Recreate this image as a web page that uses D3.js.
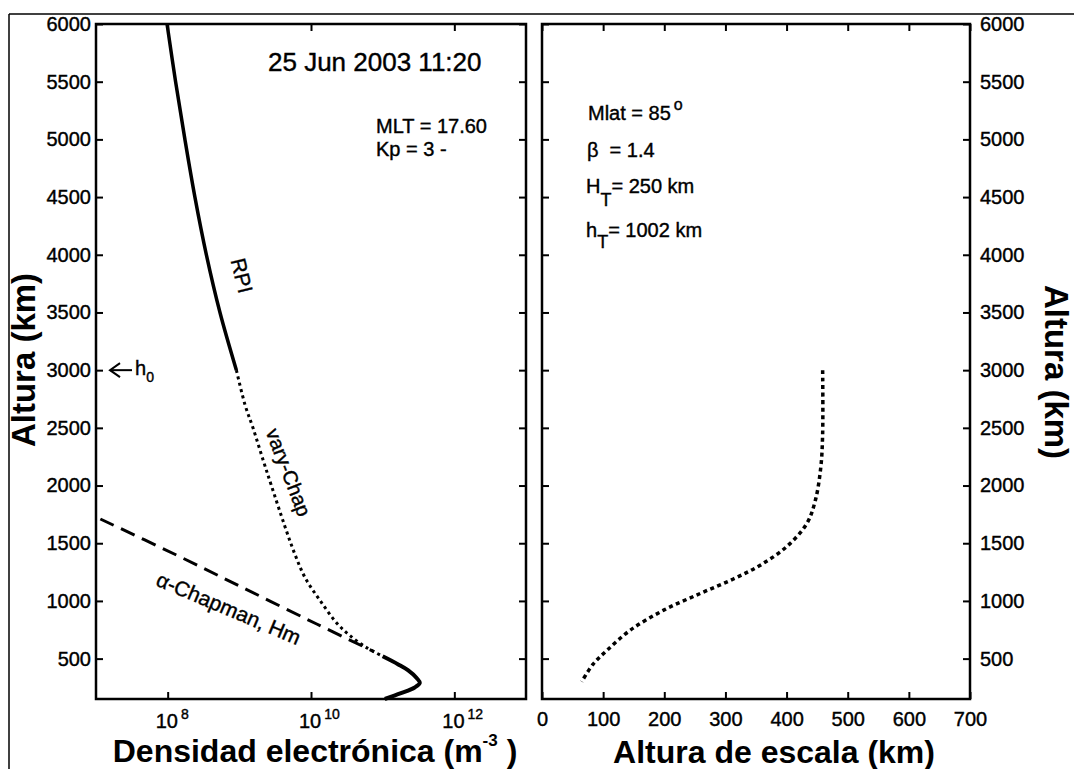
<!DOCTYPE html>
<html>
<head>
<meta charset="utf-8">
<script src="https://cdn.jsdelivr.net/npm/d3@7"></script>
<style>
body { margin: 0; background: #fff; }
text { font-family: "Liberation Sans", Arial, sans-serif; fill: #000; }
.thick { stroke: #000; stroke-width: 0.4px; }
</style>
</head>
<body>
<div id="chart"></div>
<script>
// left panel: altitude (km) vs electron density (m^-3)
const rpiAlt = [6000, 5500, 5000, 4500, 4000, 3500, 3000];
const rpiNe  = [9.8e7, 1.29e8, 1.74e8, 2.4e8, 3.47e8, 5.37e8, 9.1e8];

const varyAlt = [3000, 2700, 2500, 2200, 2000, 1650, 1400, 1200, 1000, 800, 700, 600, 520];
const varyNe  = [9.1e8, 1.2e9, 1.55e9, 2.2e9, 2.8e9, 4.3e9, 6.0e9, 8.3e9, 1.35e10, 2.35e10, 3.5e10, 5.8e10, 1.0e11];

const peakAlt = [520, 450, 400, 330, 290, 250, 200, 150];
const peakNe  = [1.0e11, 1.65e11, 2.25e11, 3.0e11, 3.3e11, 2.8e11, 1.8e11, 1.07e11];

const alphaAlt = [1710, 1400, 1100, 800, 560];
const alphaNe  = [1.15e7, 1.3e8, 1.25e9, 1.2e10, 7.6e10];

// right panel: altitude (km) vs scale height (km)
const hAlt = [3000, 2450, 2160, 1870, 1670, 1470, 1310, 1190, 1065, 920, 745, 570, 455, 300];
const hVal = [459, 459, 456, 447, 433, 400, 357, 313, 259, 199, 144, 106, 84, 65];

const altTicks = [500, 1000, 1500, 2000, 2500, 3000, 3500, 4000, 4500, 5000, 5500, 6000];
const densTicks = [1e8, 1e10, 1e12];
const densExp = ["8", "10", "12"];
const scaleTicks = [0, 100, 200, 300, 400, 500, 600, 700];

const width = 1074, height = 769;
const yTop = 24, yBot = 699;
const lx0 = 96, lx1 = 526, rx0 = 542, rx1 = 970;

const svg = d3.select("#chart").append("svg")
  .attr("width", width).attr("height", height);

const y = d3.scaleLinear().domain([150, 6000]).range([yBot, yTop]);
const xL = d3.scaleLog().domain([1e7, 1e13]).range([lx0, lx1]);
const xR = d3.scaleLinear().domain([0, 700]).range([rx0, rx1]);

// outer picture border (top and left only)
svg.append("line").attr("x1", 9).attr("y1", 14).attr("x2", width).attr("y2", 14)
  .attr("stroke", "#000").attr("stroke-width", 1.5);
svg.append("line").attr("x1", 9).attr("y1", 14).attr("x2", 9).attr("y2", height)
  .attr("stroke", "#000").attr("stroke-width", 1.5);

function styleAxis(g) {
  g.select(".domain").remove();
  g.selectAll("line").attr("stroke", "#000").attr("stroke-width", 2);
  g.selectAll("text").attr("font-size", 20).attr("fill", "#000").attr("class", "thick");
  g.attr("font-family", null).attr("font-size", null);
}

// left panel axes
svg.append("g").attr("transform", `translate(${lx0},0)`)
  .call(d3.axisLeft(y).tickValues(altTicks).tickSize(-7).tickPadding(5).tickFormat(d3.format("d")))
  .call(styleAxis);
svg.append("g").attr("transform", `translate(${lx1},0)`)
  .call(d3.axisRight(y).tickValues(altTicks).tickSize(-7).tickFormat(""))
  .call(styleAxis);
svg.append("g").attr("transform", `translate(0,${yBot})`)
  .call(d3.axisBottom(xL).tickValues(densTicks).tickSize(-7).tickFormat(""))
  .call(styleAxis);
svg.append("g").attr("transform", `translate(0,${yTop})`)
  .call(d3.axisTop(xL).tickValues(densTicks).tickSize(-7).tickFormat(""))
  .call(styleAxis);

densTicks.forEach((d, i) => {
  const t = svg.append("text").attr("class", "thick").attr("x", xL(d) - 12).attr("y", 728).attr("font-size", 20);
  t.append("tspan").text("10");
  t.append("tspan").attr("dx", 3).attr("dy", -9).attr("font-size", 14).text(densExp[i]);
});

// right panel axes
svg.append("g").attr("transform", `translate(${rx1},0)`)
  .call(d3.axisRight(y).tickValues(altTicks).tickSize(-7).tickPadding(10).tickFormat(d3.format("d")))
  .call(styleAxis);
svg.append("g").attr("transform", `translate(${rx0},0)`)
  .call(d3.axisLeft(y).tickValues(altTicks).tickSize(-7).tickFormat(""))
  .call(styleAxis);
svg.append("g").attr("transform", `translate(0,${yBot})`)
  .call(d3.axisBottom(xR).tickValues(scaleTicks).tickSize(-7).tickPadding(13).tickFormat(d3.format("d")))
  .call(styleAxis);
svg.append("g").attr("transform", `translate(0,${yTop})`)
  .call(d3.axisTop(xR).tickValues(scaleTicks).tickSize(-7).tickFormat(""))
  .call(styleAxis);

// panel frames
svg.append("rect").attr("x", lx0).attr("y", yTop).attr("width", lx1 - lx0).attr("height", yBot - yTop)
  .attr("fill", "none").attr("stroke", "#000").attr("stroke-width", 2.5);
svg.append("rect").attr("x", rx0).attr("y", yTop).attr("width", rx1 - rx0).attr("height", yBot - yTop)
  .attr("fill", "none").attr("stroke", "#000").attr("stroke-width", 2.5);

// curves
const lineL = d3.line().x(d => xL(d[1])).y(d => y(d[0])).curve(d3.curveCatmullRom);
const lineR = d3.line().x(d => xR(d[1])).y(d => y(d[0])).curve(d3.curveCatmullRom);

svg.append("path").datum(d3.zip(rpiAlt, rpiNe)).attr("d", lineL)
  .attr("fill", "none").attr("stroke", "#000").attr("stroke-width", 3.5);
svg.append("path").datum(d3.zip(varyAlt, varyNe)).attr("d", lineL)
  .attr("fill", "none").attr("stroke", "#000").attr("stroke-width", 3).attr("stroke-dasharray", "3,3.5");
svg.append("path").datum(d3.zip(alphaAlt, alphaNe)).attr("d", lineL)
  .attr("fill", "none").attr("stroke", "#000").attr("stroke-width", 3).attr("stroke-dasharray", "15,8");
svg.append("path").datum(d3.zip(peakAlt, peakNe)).attr("d", lineL)
  .attr("fill", "none").attr("stroke", "#000").attr("stroke-width", 4);

svg.append("path").datum(d3.zip(hAlt, hVal)).attr("d", lineR)
  .attr("fill", "none").attr("stroke", "#000").attr("stroke-width", 3.5).attr("stroke-dasharray", "4,3.5");

// curve labels
svg.append("text").attr("class", "thick").attr("transform", "translate(240,276) rotate(76)").attr("text-anchor", "middle")
  .attr("dominant-baseline", "middle").attr("font-size", 21).text("RPI");
svg.append("text").attr("class", "thick").attr("transform", "translate(287,473) rotate(69)").attr("text-anchor", "middle")
  .attr("dominant-baseline", "middle").attr("font-size", 20).text("vary-Chap");
svg.append("text").attr("class", "thick").attr("transform", "translate(228,610) rotate(23)").attr("text-anchor", "middle")
  .attr("dominant-baseline", "middle").attr("font-size", 21).text("α-Chapman, Hm");

// h0 marker
const y3 = y(3000);
svg.append("line").attr("x1", 110).attr("y1", y3).attr("x2", 132).attr("y2", y3)
  .attr("stroke", "#000").attr("stroke-width", 2);
svg.append("path").attr("d", `M120,${y3 - 7}L110,${y3}L120,${y3 + 7}`)
  .attr("fill", "none").attr("stroke", "#000").attr("stroke-width", 2);
const h0 = svg.append("text").attr("class", "thick").attr("x", 135).attr("y", y3 + 5).attr("font-size", 20);
h0.append("tspan").text("h");
h0.append("tspan").attr("dy", 7).attr("font-size", 14).text("0");

// annotations
svg.append("text").attr("class", "thick").attr("x", 268).attr("y", 71).attr("font-size", 26).text("25 Jun 2003 11:20");
svg.append("text").attr("class", "thick").attr("x", 376).attr("y", 133).attr("font-size", 20).text("MLT = 17.60");
svg.append("text").attr("class", "thick").attr("x", 376).attr("y", 156).attr("font-size", 20).text("Kp = 3 -");

const ml = svg.append("text").attr("class", "thick").attr("x", 588).attr("y", 120).attr("font-size", 20);
ml.append("tspan").text("Mlat = 85");
ml.append("tspan").attr("dx", 3).attr("dy", -10).attr("font-size", 16).text("o");
svg.append("text").attr("class", "thick").attr("x", 587).attr("y", 157).attr("font-size", 20).attr("xml:space", "preserve").text("β  = 1.4");
const ht = svg.append("text").attr("class", "thick").attr("x", 586).attr("y", 193).attr("font-size", 20);
ht.append("tspan").text("H");
ht.append("tspan").attr("dy", 13).attr("font-size", 18).text("T");
ht.append("tspan").attr("dy", -13).text("= 250 km");
const hh = svg.append("text").attr("class", "thick").attr("x", 586).attr("y", 237).attr("font-size", 20);
hh.append("tspan").text("h");
hh.append("tspan").attr("dy", 11).attr("font-size", 18).text("T");
hh.append("tspan").attr("dy", -11).text("= 1002 km");

// axis titles
svg.append("text").attr("transform", "translate(35,360) rotate(-90)").attr("text-anchor", "middle")
  .attr("font-size", 33).attr("font-weight", "bold").text("Altura (km)");
svg.append("text").attr("transform", "translate(1045,372) rotate(90)").attr("text-anchor", "middle")
  .attr("font-size", 33).attr("font-weight", "bold").text("Altura (km)");

const xt = svg.append("text").attr("x", 315).attr("y", 762).attr("text-anchor", "middle")
  .attr("font-size", 32).attr("font-weight", "bold").attr("xml:space", "preserve");
xt.append("tspan").text("Densidad electrónica (m");
xt.append("tspan").attr("dy", -16).attr("font-size", 17).text("-3");
xt.append("tspan").attr("dy", 16).text(" )");
svg.append("text").attr("x", 774).attr("y", 763).attr("text-anchor", "middle")
  .attr("font-size", 32).attr("font-weight", "bold").text("Altura de escala (km)");
</script>
</body>
</html>
